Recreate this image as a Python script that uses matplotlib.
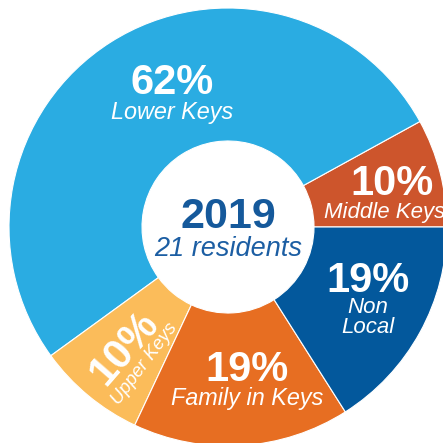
import matplotlib.pyplot as plt

plt.rcParams['font.family'] = ['Liberation Sans', 'DejaVu Sans']

# residents per area (multiple answers allowed, so shares add to more than 100%)
areas = ["Middle Keys", "Lower Keys", "Upper Keys", "Family in Keys", "Non Local"]
counts = [2, 13, 2, 4, 4]
pct_labels = ["10%", "62%", "10%", "19%", "19%"]
colors = ["#CD552C", "#2AACE2", "#FBBC5A", "#E76E22", "#03589C"]
year = "2019"
total_label = "21 residents"

W = H = 443
cx, cy = 228, H - 227
r_out, r_in = 219, 86

fig = plt.figure(figsize=(4.43, 4.43), dpi=100)
ax = fig.add_axes([0, 0, 1, 1])
ax.pie(counts, colors=colors, startangle=0, counterclock=True,
       center=(cx, cy), radius=r_out,
       wedgeprops=dict(width=r_out - r_in, edgecolor="white", linewidth=0.8))
ax.set_xlim(0, W)
ax.set_ylim(0, H)
ax.set_aspect("equal")
ax.axis("off")

def txt(x, y, s, size, bold=False, italic=False, color="white", **kw):
    ax.text(x, H - y, s, fontsize=size, color=color,
            fontweight="bold" if bold else "normal",
            fontstyle="italic" if italic else "normal",
            ha="center", va="baseline", **kw)

# centre
txt(228, 228, year, 31, bold=True, color="#15599B")
txt(228, 256, total_label, 19.5, italic=True, color="#1C5EA3")

# Lower Keys
txt(172, 94, pct_labels[1], 30, bold=True)
txt(172, 119, areas[1], 16.8, italic=True)
# Middle Keys
txt(392, 195, pct_labels[0], 30, bold=True)
txt(385, 218, areas[0], 16, italic=True)
# Non Local
txt(368, 292, pct_labels[4], 30, bold=True)
txt(368, 313, "Non", 16, italic=True)
txt(368, 333, "Local", 16, italic=True)
# Family in Keys
txt(247, 381, pct_labels[3], 30, bold=True)
txt(247, 405, areas[3], 16.8, italic=True)
# Upper Keys (rotated along the wedge)
ax.text(124, H - 348, pct_labels[2], fontsize=30, fontweight="bold", color="white",
        rotation=49, rotation_mode="anchor", ha="center", va="center")
ax.text(145, H - 364, areas[2], fontsize=13.5, fontstyle="italic", color="white",
        rotation=53, rotation_mode="anchor", ha="center", va="center")

fig.savefig("out.png", dpi=100)
